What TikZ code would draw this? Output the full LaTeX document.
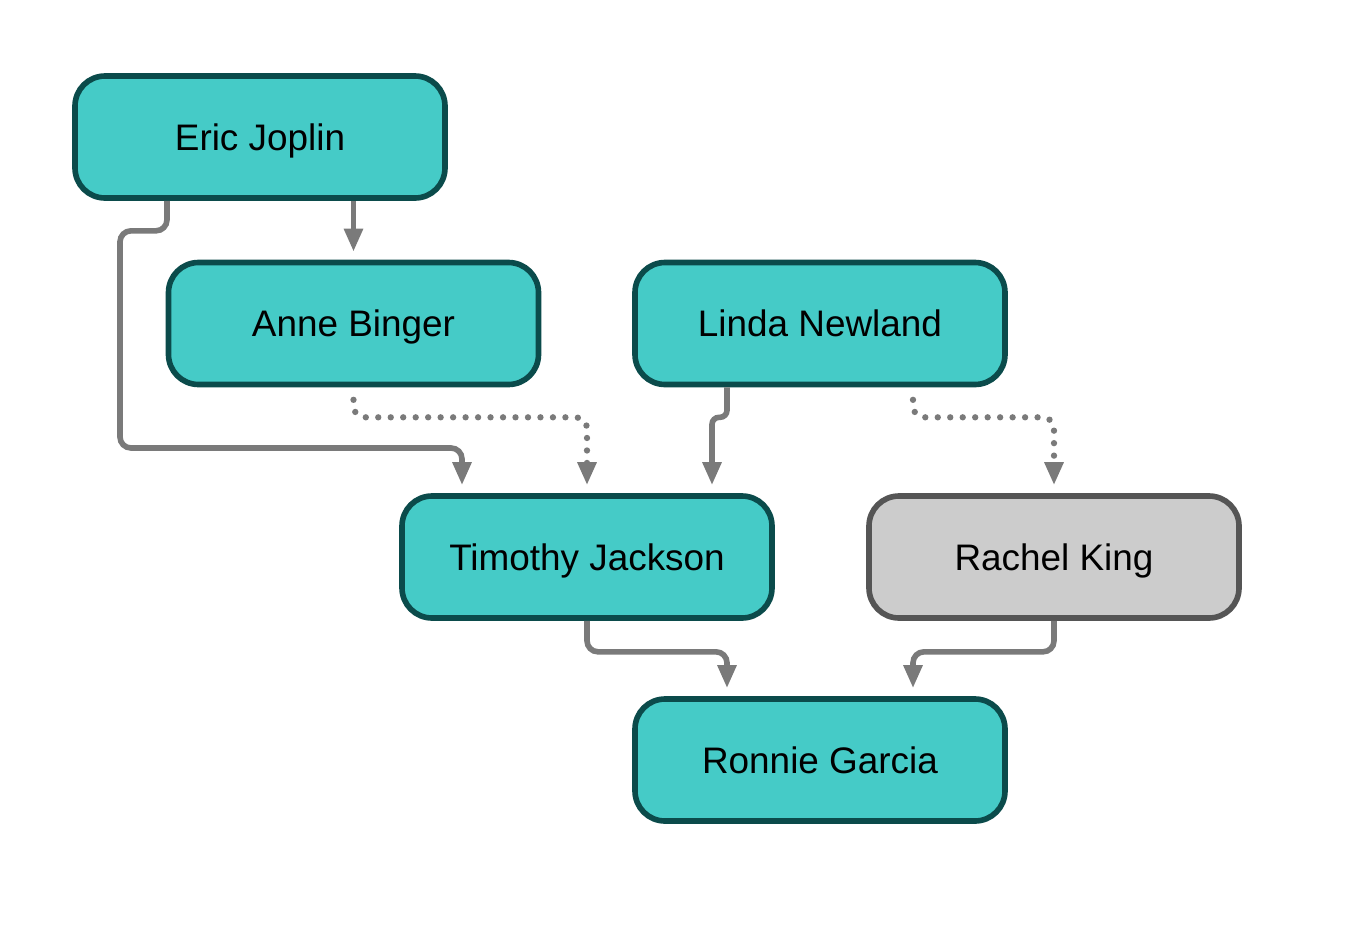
\documentclass[tikz,border=0pt]{standalone}
\usepackage{fontspec}
\setmainfont{Liberation Sans}
\usetikzlibrary{shapes}
\usetikzlibrary{arrows.meta}
\usetikzlibrary{positioning}
\definecolor{tealfill}{HTML}{45CBC7}
\definecolor{tealline}{HTML}{0B4B4B}
\definecolor{greyfill}{HTML}{CCCCCC}
\definecolor{greyline}{HTML}{555555}
\definecolor{linkcol}{HTML}{7A7A7A}
\tikzset{
  person/.style={draw=tealline, fill=tealfill, line width=3.2pt, rounded corners=0.6cm,
    minimum width=7.4cm, minimum height=2.44cm, text height=15pt, text depth=0pt,
    font=\fontsize{21}{25}\selectfont},
  other/.style={person, draw=greyline, fill=greyfill},
  link/.style={draw=linkcol, line width=3.2pt, rounded corners=0.22cm,
    -{Triangle[width=0.36cm,length=0.46cm]}, shorten >=0.16cm},
  dotlink/.style={link, line width=3.6pt, line cap=round, dash pattern=on 0pt off 7.1pt}
}
\begin{document}
\begin{tikzpicture}
\useasboundingbox (0,0) rectangle (27.24,-18.64);
\node[person] (eric) at (5.2,-2.74) {Eric Joplin};
\node[person] (anne) at (7.07,-6.47) {Anne Binger};
\node[person] (linda) at (16.4,-6.47) {Linda Newland};
\node[person] (timothy) at (11.74,-11.14) {Timothy Jackson};
\node[other] (rachel) at (21.08,-11.14) {Rachel King};
\node[person] (ronnie) at (16.4,-15.2) {Ronnie Garcia};

\draw[link] (eric.south -| anne.north) -- (anne.north);
\draw[link] ([xshift=-1.86cm]eric.south) -- ++(0,-0.6) -| (2.4,-8.96) -| ([xshift=-2.5cm]timothy.north);
\draw[dotlink] ([yshift=-0.25cm]anne.south) -- ++(0,-0.35) -| (timothy.north);
\draw[link, rounded corners=0.14cm] ([xshift=-1.86cm]linda.south) -- ++(0,-0.6) -| ([xshift=2.5cm]timothy.north);
\draw[dotlink] ([xshift=1.86cm,yshift=-0.25cm]linda.south) -- ++(0,-0.35) -| (rachel.north);
\draw[link] (timothy.south) -- ++(0,-0.62) -| ([xshift=-1.86cm]ronnie.north);
\draw[link] (rachel.south) -- ++(0,-0.62) -| ([xshift=1.86cm]ronnie.north);
\end{tikzpicture}
\end{document}
